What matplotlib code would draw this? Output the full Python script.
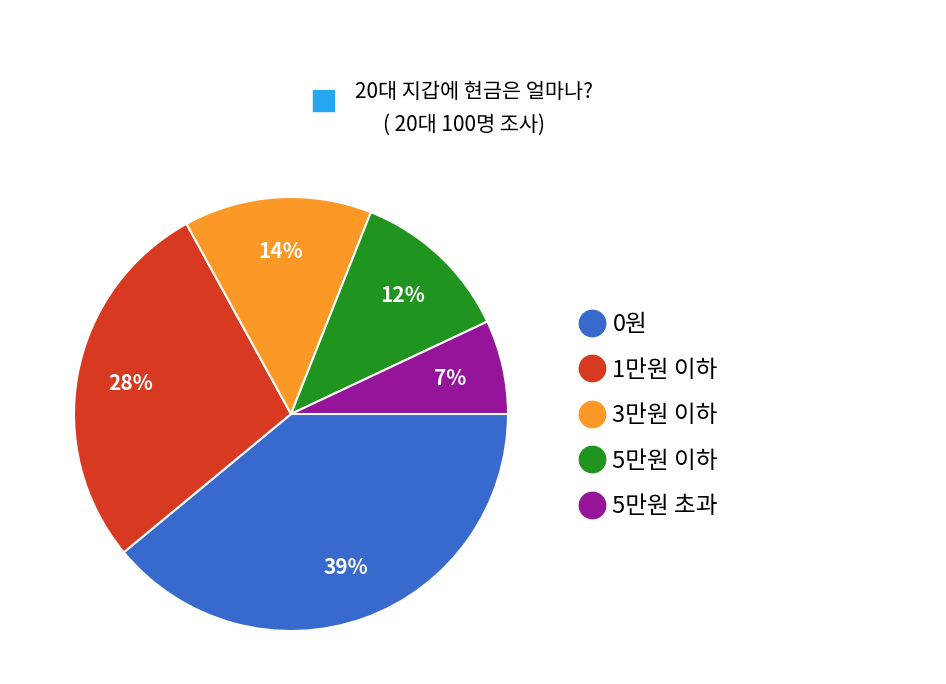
import matplotlib
matplotlib.use("Agg")
import matplotlib.pyplot as plt
from matplotlib.lines import Line2D

plt.rcParams['font.family'] = ['Noto Sans CJK KR', 'DejaVu Sans']

categories = ['0원', '1만원 이하', '3만원 이하', '5만원 이하', '5만원 초과']
values = [39, 28, 14, 12, 7]
colors = ['#3869cc', '#d83a21', '#fc9926', '#1f941e', '#961499']

fig = plt.figure(figsize=(9.46, 6.84), dpi=100)
ax = fig.add_axes([0.0782, 0.0775, 0.4588, 0.6345])
wedges, texts, autotexts = ax.pie(values, colors=colors, startangle=0, counterclock=False,
       autopct='%d%%', pctdistance=0.75,
       wedgeprops=dict(edgecolor='white', linewidth=1.5),
       textprops=dict(color='white', fontsize=15, fontweight='bold'))
ax.set_xlim(-1, 1)
ax.set_ylim(-1, 1)
ax.set_aspect('equal')

fig.text(0.342, 1 - 104/684, '■', color='#22a7f0', fontsize=20, ha='center', va='center')
fig.text(0.375, 1 - 92/684, '20대 지갑에 현금은 얼마나?', fontsize=15, ha='left', va='center')
fig.text(0.405, 1 - 125/684, '( 20대 100명 조사)', fontsize=15, ha='left', va='center')

handles = [Line2D([], [], marker='o', linestyle='', markersize=19, color=c) for c in colors]
fig.legend(handles, categories, loc='upper left', bbox_to_anchor=(0.585, 1 - 292/684),
           frameon=False, fontsize=17, labelspacing=0.95, handletextpad=0.1,
           handlelength=1.5)

fig.savefig('out.png', dpi=100)
